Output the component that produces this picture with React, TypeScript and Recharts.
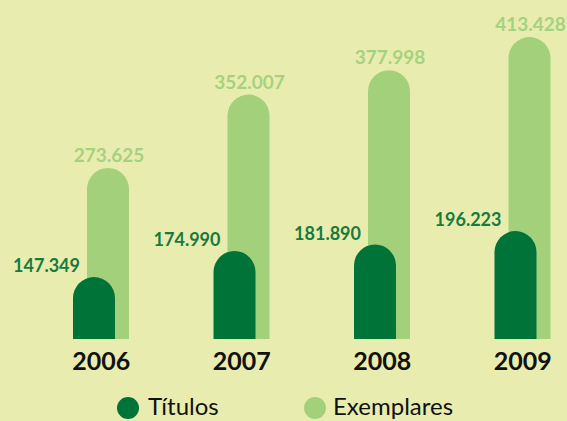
import { BarChart, Bar, XAxis, YAxis, Legend, LabelList } from 'recharts';

const years = ['2006', '2007', '2008', '2009'];
const titulos = [147349, 174990, 181890, 196223];
const exemplares = [273625, 352007, 377998, 413428];

const data = years.map((year, i) => ({ year, titulos: titulos[i], exemplares: exemplares[i] }));

const BG = '#e8edaf';
const DARK = '#007338';
const LIGHT = '#a3d07a';
const FONT = 'Lato, "Open Sans", sans-serif';

const fmt = (v: number) => v.toLocaleString('de-DE');

// rounded-top bar, nudged sideways so the two series overlap
const pill = (dx: number, fill: string) => (props: any) => {
  const { x, y, width, height } = props;
  if (height <= 0) return null;
  const r = width / 2;
  const left = x + dx;
  const d = `M${left},${y + height} L${left},${y + r} A${r},${r} 0 0 1 ${left + width},${y + r} L${left + width},${y + height} Z`;
  return <path d={d} fill={fill} />;
};

const DarkLabel = (props: any) => {
  const { x, y, value } = props;
  return (
    <text x={x} y={y - 5} textAnchor="end" fill="#187a3e" fontFamily={FONT} fontWeight={700} fontSize={18}>
      {fmt(value)}
    </text>
  );
};

const LightLabel = (props: any) => {
  const { x, y, width, value } = props;
  return (
    <text x={x + 8 + width / 2} y={y - 6} textAnchor="middle" fill="#a6d27f" fontFamily={FONT} fontWeight={700} fontSize={19}>
      {fmt(value)}
    </text>
  );
};

const YearTick = (props: any) => {
  const { x, y, payload } = props;
  return (
    <text x={x} y={y} dy={23} textAnchor="middle" fill="#111" fontFamily={FONT} fontWeight={700} fontSize={25}>
      {payload.value}
    </text>
  );
};

const LegendContent = () => (
  <div style={{ position: 'relative', height: 30, fontFamily: FONT, fontSize: 24, color: '#111' }}>
    <span style={{ position: 'absolute', left: 117, top: 6, width: 22, height: 22, borderRadius: 11, background: DARK }} />
    <span style={{ position: 'absolute', left: 148, top: 0, lineHeight: '30px' }}>Títulos</span>
    <span style={{ position: 'absolute', left: 304, top: 6, width: 22, height: 22, borderRadius: 11, background: LIGHT }} />
    <span style={{ position: 'absolute', left: 333, top: 0, lineHeight: '30px' }}>Exemplares</span>
  </div>
);

export default function App() {
  return (
    <div style={{ position: 'absolute', top: 0, left: 0, width: 567, height: 421, overflow: 'hidden', background: BG }}>
      <BarChart width={600} height={421} data={data} margin={{ top: 0, left: 31, right: 7, bottom: 0 }} barSize={42} barGap={-42}>
        <XAxis dataKey="year" axisLine={false} tickLine={false} height={52} tick={<YearTick />} interval={0} />
        <YAxis yAxisId="e" hide domain={[91000, 453000]} allowDataOverflow />
        <YAxis yAxisId="t" hide domain={[81500, 441700]} allowDataOverflow />
        <Legend
          verticalAlign="bottom"
          height={30}
          content={<LegendContent />}
          wrapperStyle={{ left: 0, width: 567 }}
        />
        <Bar yAxisId="e" dataKey="exemplares" name="Exemplares" fill={LIGHT} shape={pill(7, LIGHT)} isAnimationActive={false}>
          <LabelList dataKey="exemplares" content={<LightLabel />} />
        </Bar>
        <Bar yAxisId="t" dataKey="titulos" name="Títulos" fill={DARK} shape={pill(-7, DARK)} isAnimationActive={false}>
          <LabelList dataKey="titulos" content={<DarkLabel />} />
        </Bar>
      </BarChart>
    </div>
  );
}
